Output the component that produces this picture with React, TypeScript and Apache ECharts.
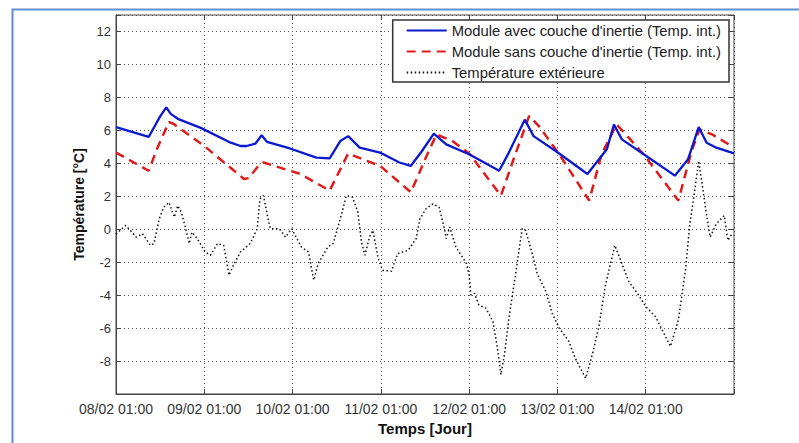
import React, { useEffect, useRef } from "react";
import * as echarts from "echarts";

// x = days since 08/02 01:00
const dayLabels = ["08/02 01:00", "09/02 01:00", "10/02 01:00", "11/02 01:00", "12/02 01:00", "13/02 01:00", "14/02 01:00"];
const yTickLabels = ["-8", "-6", "-4", "-2", "0", "2", "4", "6", "8", "10", "12"];

const seriesNames = [
  "Module avec couche d'inertie (Temp. int.)",
  "Module sans couche d'inertie (Temp. int.)",
  "Température extérieure",
];

const avecInertie: [number, number][] = [
  [0, 6.2], [0.37, 5.6], [0.5, 6.85], [0.57, 7.4], [0.62, 7.0], [0.7, 6.7], [0.96, 6.15],
  [1.3, 5.25], [1.41, 5.05], [1.48, 5.05], [1.58, 5.2], [1.65, 5.7], [1.71, 5.3], [1.97, 4.9],
  [2.27, 4.35], [2.42, 4.3], [2.54, 5.35], [2.63, 5.65], [2.76, 4.95], [2.99, 4.65], [3.21, 4.05],
  [3.34, 3.85], [3.46, 4.7], [3.6, 5.8], [3.74, 5.15], [4.0, 4.55], [4.34, 3.55], [4.45, 4.65],
  [4.63, 6.65], [4.73, 5.65], [4.98, 4.75], [5.2, 3.9], [5.34, 3.35], [5.56, 4.85], [5.64, 6.35],
  [5.73, 5.45], [5.99, 4.5], [6.33, 3.25], [6.48, 4.25], [6.6, 6.2], [6.69, 5.25], [6.8, 4.95], [7.0, 4.6],
];

const sansInertie: [number, number][] = [
  [0, 4.65], [0.37, 3.55], [0.47, 4.95], [0.6, 6.5], [0.65, 6.4], [1.0, 5.05], [1.45, 3.05],
  [1.5, 3.1], [1.63, 3.95], [1.67, 4.05], [1.82, 3.8], [2.09, 3.35], [2.42, 2.34], [2.63, 4.6],
  [2.84, 4.15], [2.99, 3.85], [3.21, 2.84], [3.34, 2.24], [3.51, 4.35], [3.63, 5.75], [3.81, 5.35],
  [4.0, 4.6], [4.36, 2.04], [4.51, 4.35], [4.68, 6.88], [4.79, 6.26], [5.02, 4.55], [5.36, 1.74],
  [5.5, 4.55], [5.67, 6.36], [5.84, 5.36], [5.99, 4.45], [6.37, 1.74], [6.52, 4.75], [6.61, 6.06],
  [6.75, 5.76], [6.97, 5.05],
];

const exterieure: [number, number][] = [
  [0, -0.3], [0.11, 0.23], [0.23, -0.48], [0.3, -0.27], [0.39, -0.98], [0.43, -0.87], [0.49, 0.63],
  [0.54, 1.33], [0.6, 1.63], [0.66, 0.73], [0.7, 1.43], [0.74, 1.03], [0.79, 0.03], [0.83, -0.87],
  [0.86, -0.18], [0.92, -0.57], [1.01, -1.38], [1.07, -1.58], [1.15, -0.87], [1.22, -0.98],
  [1.28, -2.79], [1.33, -2.18], [1.41, -1.38], [1.52, -0.87], [1.6, 0.03], [1.63, 1.84], [1.67, 2.04],
  [1.73, 0.43], [1.75, 0.03], [1.85, 0.03], [1.92, -0.48], [1.99, 0.03], [2.1, -1.08], [2.18, -1.38],
  [2.24, -3.09], [2.29, -2.08], [2.4, -1.08], [2.46, -0.87], [2.54, 0.63], [2.61, 2.04], [2.68, 1.94],
  [2.74, 1.03], [2.78, -0.78], [2.82, -1.58], [2.87, -0.48], [2.91, -0.07], [2.97, -1.78], [3.02, -2.49],
  [3.12, -2.55], [3.19, -1.48], [3.31, -1.28], [3.4, -0.57], [3.44, 0.6], [3.51, 1.24], [3.59, 1.54],
  [3.66, 1.33], [3.72, 0.03], [3.74, -0.57], [3.78, 0.13], [3.85, -1.08], [3.97, -2.08], [4.0, -2.79],
  [4.02, -3.99], [4.06, -3.89], [4.11, -4.6], [4.19, -4.8], [4.27, -5.6], [4.32, -7.21], [4.36, -8.82],
  [4.4, -7.61], [4.45, -5.4], [4.53, -2.59], [4.6, 0.03], [4.64, -0.07], [4.72, -1.58], [4.77, -2.69],
  [4.87, -3.79], [4.94, -5.1], [5.02, -6.0], [5.13, -6.81], [5.2, -7.81], [5.32, -9.05], [5.4, -7.5],
  [5.47, -5.9], [5.54, -3.49], [5.65, -0.98], [5.81, -3.19], [5.92, -3.99], [6.0, -4.7], [6.11, -5.3],
  [6.28, -7.11], [6.37, -5.5], [6.45, -2.49], [6.5, 0.33], [6.55, 2.14], [6.6, 4.15], [6.65, 2.34],
  [6.69, 0.83], [6.73, -0.48], [6.8, 0.33], [6.89, 0.83], [6.93, -0.68], [6.98, -0.27],
];

const FONT = "Liberation Sans, Arial, sans-serif";

export default function App() {
  const ref = useRef<HTMLDivElement>(null);
  useEffect(() => {
    if (!ref.current) return;
    const chart = echarts.init(ref.current, undefined, { renderer: "svg" });
    const gridLine = { show: true, lineStyle: { color: "#555", width: 1, type: [1, 3] as any } };
    chart.setOption({
      animation: false,
      backgroundColor: "#fff",
      textStyle: { fontFamily: FONT },
      grid: { left: 116, right: 65, top: 15, bottom: 49, show: true, borderColor: "#444", borderWidth: 1, containLabel: false },
      legend: {
        data: seriesNames,
        orient: "vertical",
        right: 70,
        top: 20,
        backgroundColor: "#fff",
        borderColor: "#333",
        borderWidth: 1.5,
        borderRadius: 0,
        padding: [3, 8, 2, 13],
        itemGap: 6,
        itemWidth: 40,
        itemHeight: 14,
        itemStyle: { opacity: 0, borderWidth: 0 },
        textStyle: { fontSize: 14.8, color: "#222", fontFamily: FONT },
      },
      xAxis: [
        {
          type: "value",
          min: 0,
          max: 7,
          interval: 1,
          name: "Temps [Jour]",
          nameLocation: "middle",
          nameGap: 21,
          nameTextStyle: { fontWeight: "bold", fontSize: 15, color: "#111" },
          axisLine: { show: true, onZero: false, lineStyle: { color: "#444", width: 1 } },
          axisTick: { show: true, inside: true, length: 5, lineStyle: { color: "#444" } },
          axisLabel: {
            margin: 8,
            fontSize: 14,
            color: "#333",
            formatter: (v: number) => dayLabels[Math.round(v)] ?? "",
          },
          splitLine: gridLine,
        },
        {
          type: "value",
          position: "top",
          min: 0,
          max: 7,
          interval: 1,
          axisLine: { show: false, onZero: false },
          axisTick: { show: true, inside: true, length: 5, lineStyle: { color: "#444" } },
          axisLabel: { show: false },
          splitLine: { show: false },
        },
      ],
      yAxis: [
        {
          type: "value",
          min: -10,
          max: 13,
          interval: 2,
          name: "Température [°C]",
          nameLocation: "middle",
          nameGap: 27,
          nameTextStyle: { fontWeight: "bold", fontSize: 14, color: "#111" },
          axisLine: { show: true, onZero: false, lineStyle: { color: "#444", width: 1 } },
          axisTick: { show: true, inside: true, length: 5, lineStyle: { color: "#444" } },
          axisLabel: {
            margin: 5,
            fontSize: 13,
            color: "#333",
            formatter: (v: number) => (yTickLabels.includes(String(v)) ? String(v) : ""),
          },
          splitLine: gridLine,
        },
        {
          type: "value",
          position: "right",
          min: -10,
          max: 13,
          interval: 2,
          axisLine: { show: false, onZero: false },
          axisTick: { show: true, inside: true, length: 5, lineStyle: { color: "#444" } },
          axisLabel: { show: false },
          splitLine: { show: false },
        },
      ],
      series: [
        {
          name: seriesNames[0],
          type: "line",
          data: avecInertie,
          symbol: "none",
          lineStyle: { color: "#0a18d0", width: 2.3 },
          itemStyle: { color: "#0a18d0" },
          z: 4,
        },
        {
          name: seriesNames[1],
          type: "line",
          data: sansInertie,
          symbol: "none",
          lineStyle: { color: "#e01a1a", width: 2.5, type: [9, 6] as any },
          itemStyle: { color: "#e01a1a" },
          z: 3,
        },
        {
          name: seriesNames[2],
          type: "line",
          data: exterieure,
          symbol: "none",
          lineStyle: { color: "#111", width: 1.5, type: [1.5, 2.5] as any },
          itemStyle: { color: "#111" },
          z: 2,
        },
      ],
      graphic: [
        {
          type: "rect",
          left: 10,
          top: 7,
          shape: { x: 0, y: 0, width: 800, height: 450 },
          style: { fill: "none", stroke: "#5f8fd3", lineWidth: 2 },
          silent: true,
        },
      ],
    });
    return () => chart.dispose();
  }, []);
  return <div ref={ref} style={{ position: "fixed", left: 0, top: 0, width: 799, height: 443 }} />;
}
